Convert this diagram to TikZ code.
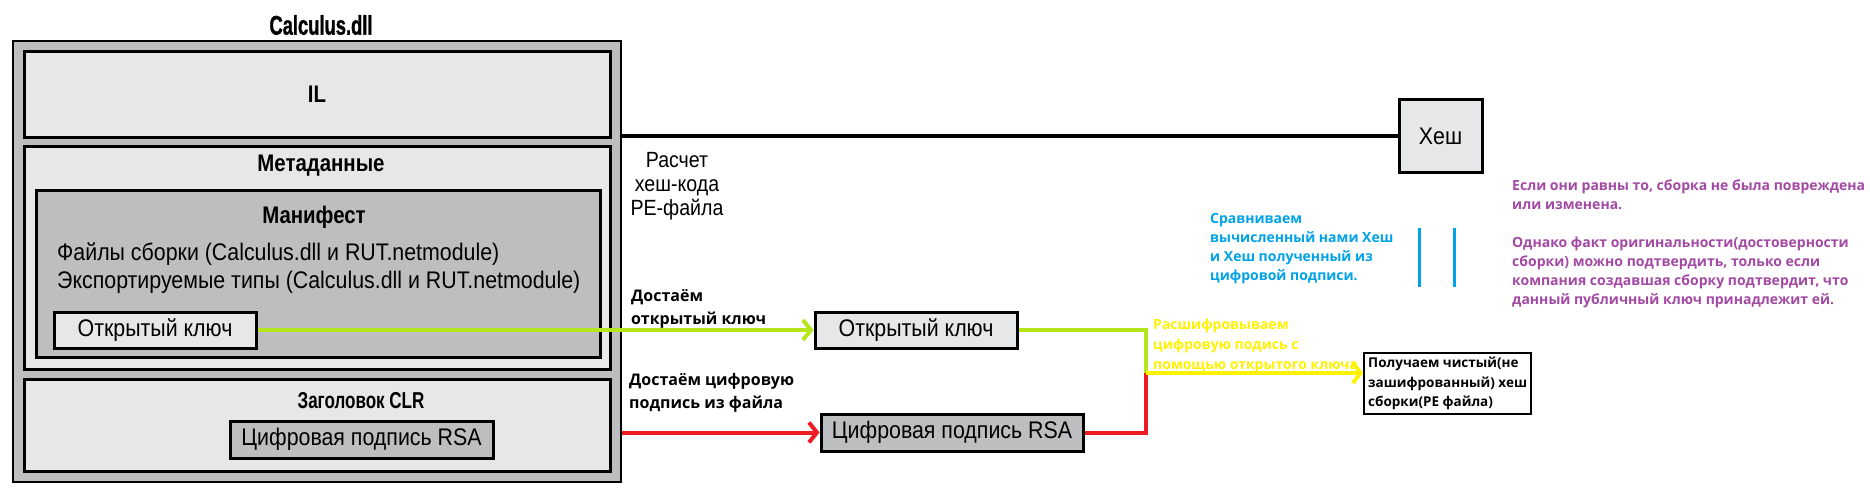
\documentclass[tikz,border=0pt]{standalone}
\usepackage{fontspec}
\setmainfont{Liberation Sans}[FakeStretch=0.89, BoldFeatures={FakeStretch=0.85}]
\newfontfamily\titlefont{Liberation Sans}[FakeStretch=0.68, BoldFeatures={FakeBold=1.2}]
\newfontfamily\narrowbold{Liberation Sans}[FakeStretch=0.74]
\newfontfamily\notefont{Open Sans}
\usetikzlibrary{arrows.meta}

\definecolor{boxgray}{HTML}{BCBEC0}
\definecolor{boxlight}{HTML}{E6E7E8}
\definecolor{keygreen}{HTML}{B5E61D}
\definecolor{sigred}{HTML}{ED1C24}
\definecolor{decyellow}{HTML}{FFF200}
\definecolor{cmpblue}{HTML}{00A2E8}
\definecolor{notepurple}{HTML}{A349A4}

\tikzset{
    block/.style={draw=black, line width=3pt, fill=boxlight, inner sep=0pt,
        font=\fontsize{24}{24}\selectfont},
    darkblock/.style={block, fill=boxgray},
    heading/.style={font=\bfseries\fontsize{24}{24}\selectfont, inner sep=0pt},
    flow/.style={line width=4pt, -{Straight Barb[length=8pt, width=20pt]}},
    note/.style={font=\notefont\bfseries\fontsize{14}{19}\selectfont,
        align=left, anchor=west, inner sep=0pt},
}

\begin{document}
\begin{tikzpicture}[x=1pt, y=-1pt]
    \useasboundingbox (0,0) rectangle (1870,500);

    % the assembly file
    \node[darkblock, line width=2pt, minimum width=608pt, minimum height=441pt] (dll) at (317,261.5) {};
    \node[font=\titlefont\bfseries\fontsize{27}{27}\selectfont] (title) at (321,25) {Calculus.dll};
    \node[block, minimum width=586pt, minimum height=85pt, font=\bfseries\fontsize{24}{24}\selectfont] (il) at (317,94.5) {IL};
    \node[block, minimum width=586pt, minimum height=223pt] (meta) at (317,257.5) {};
    \node[heading] (metatitle) at (321,166) {Метаданные};
    \node[darkblock, minimum width=564pt, minimum height=167pt] (manifest) at (318,273.5) {};
    \node[heading] (maniftitle) at (314,217) {Манифест};
    \node[anchor=west, inner sep=0pt, font=\fontsize{24}{24}\selectfont] (files) at (57,254) {Файлы сборки (Calculus.dll и RUT.netmodule)};
    \node[anchor=west, inner sep=0pt, font=\fontsize{24}{24}\selectfont] (types) at (57,282) {Экспортируемые типы (Calculus.dll и RUT.netmodule)};
    \node[block, minimum width=202pt, minimum height=36pt] (key) at (155,330) {Открытый ключ};
    \node[block, minimum width=586pt, minimum height=92pt] (clr) at (317,425) {};
    \node[heading, font=\narrowbold\bfseries\fontsize{23}{23}\selectfont] (clrtitle) at (361,401) {Заголовок CLR};
    \node[darkblock, minimum width=263pt, minimum height=37pt] (rsa) at (361.5,439.5) {Цифровая подпись RSA};

    % extracted parts and hash
    \node[block, minimum width=83pt, minimum height=72pt] (hash) at (1440.5,136) {Хеш};
    \node[font=\fontsize{22}{24}\selectfont, align=center] (calc) at (677,186) {Расчет\\хеш-кода\\PE-файла};
    \node[block, minimum width=202pt, minimum height=36pt] (key2) at (916,330) {Открытый ключ};
    \node[darkblock, minimum width=262pt, minimum height=37pt] (rsa2) at (952,432.5) {Цифровая подпись RSA};
    \node[draw, line width=1.5pt, fill=white, minimum width=167pt, minimum height=61pt] (result) at (1447.5,383.5) {};
    \node[note, font=\notefont\bfseries\fontsize{13.5}{19.5}\selectfont] (resulttext) at (1368,383.5)
        {Получаем чистый(не\\зашифрованный) хеш\\сборки(PE файла)};

    % arrows
    \coordinate (join) at (1146,373);
    \draw[line width=3pt] (dll.east |- hash.west) -- (hash.west);
    \draw[flow, keygreen] (key.east) -- (key2.west);
    \draw[flow, sigred] (dll.east |- rsa2.west) -- (rsa2.west);
    \draw[keygreen, line width=4pt] (key2.east) -| (join);
    \draw[sigred, line width=4pt] (rsa2.east) -| (join);
    \draw[flow, decyellow] (join) -- (join -| result.west);
    \foreach \x in {1419,1454}
        \draw[cmpblue, line width=3pt] (\x,228) -- (\x,287);

    % comments
    \node[note, font=\notefont\bfseries\fontsize{16}{23}\selectfont] (getkey) at (631,309) {Достаём\\открытый ключ};
    \node[note, font=\notefont\bfseries\fontsize{16}{23}\selectfont] (getsig) at (629,393) {Достаём цифровую\\подпись из файла};
    \node[note, text=decyellow, font=\notefont\bfseries\fontsize{14}{20}\selectfont] (decrypt) at (1153,345.5) {Расшифровываем\\цифровую подись с\\помощью открытого ключа};
    \node[note, text=cmpblue] (compare) at (1210,248.5) {Сравниваем\\вычисленный нами Хеш\\и Хеш полученный из\\цифровой подписи.};
    \node[note, text=notepurple] (verdict) at (1512,244) {Если они равны то, сборка не была повреждена\\или изменена.\\[19pt]Однако факт оригинальности(достоверности\\сборки) можно подтвердить, только если\\компания создавшая сборку подтвердит, что\\данный публичный ключ принадлежит ей.};
\end{tikzpicture}
\end{document}
